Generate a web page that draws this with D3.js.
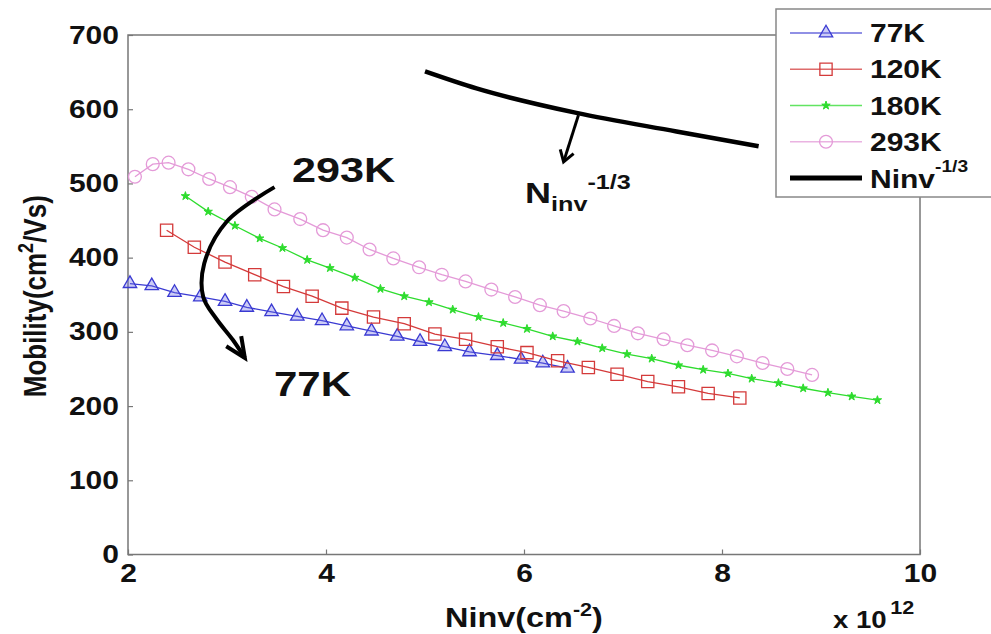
<!DOCTYPE html>
<html lang="en">
<head>
<meta charset="utf-8">
<title>Mobility vs Ninv</title>
<script src="https://d3js.org/d3.v7.min.js"></script>
<style>
  body, html { margin: 0; padding: 0; background: #fff; overflow: hidden; }
  text { font-family: "Liberation Sans", Arial, Helvetica, sans-serif; font-weight: bold; fill: #111; }
</style>
</head>
<body>
<svg id="chart" width="991" height="634"></svg>
<script>
// data (Ninv in 1e12 cm^-2, mobility in cm2/Vs)
var x77  = [2.02, 2.24, 2.47, 2.73, 2.98, 3.20, 3.45, 3.71, 3.96, 4.21, 4.46, 4.72, 4.95, 5.20, 5.45, 5.73, 5.97, 6.19, 6.44];
var mu77 = [365, 362, 353, 347, 341, 333, 327, 321, 315, 308, 301, 294, 287, 280, 273, 268, 263, 258, 251];

var x120  = [2.39, 2.67, 2.98, 3.28, 3.57, 3.86, 4.16, 4.48, 4.79, 5.10, 5.41, 5.73, 6.03, 6.34, 6.65, 6.94, 7.25, 7.56, 7.86, 8.18];
var mu120 = [437, 414, 394, 377, 361, 348, 332, 320, 311, 297, 290, 280, 272, 261, 252, 243, 233, 226, 217, 211];

var x180  = [2.58, 2.81, 3.08, 3.33, 3.56, 3.81, 4.04, 4.29, 4.55, 4.79, 5.04, 5.28, 5.54, 5.79, 6.03, 6.29, 6.54, 6.79, 7.04, 7.29, 7.56, 7.81, 8.06, 8.30, 8.57, 8.82, 9.07, 9.31, 9.57];
var mu180 = [483, 462, 443, 426, 413, 397, 386, 373, 358, 348, 340, 330, 320, 312, 304, 294, 287, 278, 270, 264, 255, 249, 244, 237, 231, 224, 218, 213, 208];

var x293  = [2.07, 2.25, 2.41, 2.61, 2.82, 3.03, 3.25, 3.48, 3.74, 3.97, 4.21, 4.44, 4.68, 4.94, 5.17, 5.41, 5.67, 5.91, 6.16, 6.40, 6.67, 6.91, 7.15, 7.41, 7.65, 7.90, 8.15, 8.41, 8.66, 8.91];
var mu293 = [509, 526, 528, 519, 506, 495, 482, 465, 452, 437, 427, 411, 399, 387, 377, 368, 357, 347, 336, 328, 318, 308, 298, 290, 282, 275, 267, 258, 250, 242];

// the Ninv^-1/3 guide line
var xGuide  = [5.00, 5.52, 6.53, 7.54, 8.37];
var muGuide = [651, 628, 595, 570, 550];

var xTicks = [2, 4, 6, 8, 10];
var yTicks = [0, 100, 200, 300, 400, 500, 600, 700];
var legendLabels = ["77K", "120K", "180K", "293K"];

// annotation paths, in data units
var bigArrowX  = [3.48, 3.00, 2.77, 2.76, 2.89, 3.06, 3.18];
var bigArrowMu = [495, 449, 392, 347, 318, 289, 265];
var smallArrowX  = [6.55, 6.40];
var smallArrowMu = [592, 529];

var svg = d3.select("#chart"),
    mL = 128, mR = 920, mT = 35, mB = 554.5,
    sx = 1.2; // the picture is stretched horizontally

var x = d3.scaleLinear().domain([2, 10]).range([mL, mR]);
var y = d3.scaleLinear().domain([0, 700]).range([mB, mT]);

var series = [
    {name: "77K",  xs: x77,  ys: mu77,  color: "#3a3ad2", fill: "rgba(110,110,230,0.35)", symbol: d3.symbolTriangle, size: 78, sw: 1.3},
    {name: "120K", xs: x120, ys: mu120, color: "#d43a3a", fill: "none", symbol: d3.symbolSquare, size: 150, sw: 1.3},
    {name: "180K", xs: x180, ys: mu180, color: "#2edc2e", fill: "#2edc2e", symbol: d3.symbolStar, size: 22, sw: 1},
    {name: "293K", xs: x293, ys: mu293, color: "#e49ad8", fill: "none", symbol: d3.symbolCircle, size: 130, sw: 1.3}
];

// frame
svg.append("rect")
    .attr("x", mL).attr("y", mT)
    .attr("width", mR - mL).attr("height", mB - mT)
    .attr("fill", "none").attr("stroke", "#777").attr("stroke-width", 1.5);

// axes, ticks inside
var xAxis = svg.append("g")
    .attr("transform", "translate(0," + mB + ")")
    .call(d3.axisBottom(x).tickValues(xTicks).tickSizeInner(-5).tickSizeOuter(0).tickPadding(10).tickFormat(d3.format("d")));
var yAxis = svg.append("g")
    .attr("transform", "translate(" + mL + ",0)")
    .call(d3.axisLeft(y).tickValues(yTicks).tickSizeInner(-5).tickSizeOuter(0).tickPadding(7.5).tickFormat(d3.format("d")));

[xAxis, yAxis].forEach(function (ax) {
    ax.select(".domain").remove();
    ax.selectAll(".tick line").attr("stroke", "#777").attr("stroke-width", 1.2);
    ax.selectAll(".tick text")
        .attr("font-size", 25)
        .attr("font-family", null)
        .attr("fill", "#111")
        .attr("transform", "scale(" + sx + ",1)");
});

// series lines and markers
var line = d3.line().x(function (d) { return x(d[0]); }).y(function (d) { return y(d[1]); });

series.forEach(function (s) {
    var pts = s.xs.map(function (v, i) { return [v, s.ys[i]]; });
    svg.append("path")
        .attr("d", line(pts))
        .attr("fill", "none")
        .attr("stroke", s.color)
        .attr("stroke-width", 1.3);
    svg.append("g").selectAll("path")
        .data(pts)
        .enter().append("path")
        .attr("transform", function (d) { return "translate(" + x(d[0]) + "," + y(d[1]) + ")"; })
        .attr("d", d3.symbol().type(s.symbol).size(s.size))
        .attr("fill", s.fill)
        .attr("stroke", s.color)
        .attr("stroke-width", s.sw);
});

// guide line
var guidePts = xGuide.map(function (v, i) { return [v, muGuide[i]]; });
svg.append("path")
    .attr("d", line.curve(d3.curveMonotoneX)(guidePts))
    .attr("fill", "none").attr("stroke", "#000").attr("stroke-width", 4.5);
line.curve(d3.curveLinear);

// arrows
function arrowHead(x1, y1, x2, y2, len, w) {
    var a = Math.atan2(y2 - y1, x2 - x1);
    var p1 = [x2 - len * Math.cos(a) + w * Math.sin(a), y2 - len * Math.sin(a) - w * Math.cos(a)];
    var p2 = [x2 - len * Math.cos(a) - w * Math.sin(a), y2 - len * Math.sin(a) + w * Math.cos(a)];
    return "M" + p1 + "L" + [x2, y2] + "L" + p2;
}

var bigPts = bigArrowX.map(function (v, i) { return [v, bigArrowMu[i]]; });
svg.append("path")
    .attr("d", line.curve(d3.curveCatmullRom)(bigPts))
    .attr("fill", "none").attr("stroke", "#000").attr("stroke-width", 4);
line.curve(d3.curveLinear);
var n = bigPts.length;
svg.append("path")
    .attr("d", arrowHead(x(bigPts[n - 2][0]), y(bigPts[n - 2][1]), x(bigPts[n - 1][0]), y(bigPts[n - 1][1]), 20, 9))
    .attr("fill", "none").attr("stroke", "#000").attr("stroke-width", 4);

svg.append("path")
    .attr("d", "M" + [x(smallArrowX[0]), y(smallArrowMu[0])] + "L" + [x(smallArrowX[1]), y(smallArrowMu[1])])
    .attr("stroke", "#000").attr("stroke-width", 3);
svg.append("path")
    .attr("d", arrowHead(x(smallArrowX[0]), y(smallArrowMu[0]), x(smallArrowX[1]), y(smallArrowMu[1]), 11, 7))
    .attr("fill", "none").attr("stroke", "#000").attr("stroke-width", 3);

// text helper, stretched horizontally like the source image
function label(px, py, size, anchor) {
    return svg.append("text")
        .attr("transform", "translate(" + px + "," + py + ") scale(" + sx + ",1)")
        .attr("font-size", size)
        .attr("text-anchor", anchor || "start");
}

label(292, 182, 36).text("293K");
label(274, 396, 35).text("77K");

var nl = label(525, 203, 30);
nl.append("tspan").text("N");
nl.append("tspan").attr("font-size", 21).attr("dy", 8).text("inv");
nl.append("tspan").attr("font-size", 21).attr("dy", -22).text("-1/3");

// axis titles
var xt = label(x(6), 627, 27, "middle");
xt.append("tspan").text("Ninv(cm");
xt.append("tspan").attr("font-size", 18).attr("dy", -11).text("-2");
xt.append("tspan").attr("dy", 11).text(")");

var yt = svg.append("text")
    .attr("transform", "translate(46," + y(348) + ") rotate(-90) scale(1," + sx + ")")
    .attr("font-size", 26)
    .attr("text-anchor", "middle");
yt.append("tspan").text("Mobility(cm");
yt.append("tspan").attr("font-size", 18).attr("dy", -11).text("2");
yt.append("tspan").attr("dy", 11).text("/Vs)");

var ex = label(833, 628, 23);
ex.append("tspan").text("x 10");
ex.append("tspan").attr("font-size", 18).attr("dx", 3).attr("dy", -14).text("12");

// legend
var lg = svg.append("g");
lg.append("rect")
    .attr("x", 776).attr("y", 9).attr("width", 240).attr("height", 188)
    .attr("fill", "#fff").attr("stroke", "#888").attr("stroke-width", 1.5);

var rowY = d3.scalePoint().domain(legendLabels.concat(["guide"])).range([33, 178]);

series.forEach(function (s) {
    var yy = rowY(s.name);
    lg.append("line")
        .attr("x1", 790).attr("x2", 862).attr("y1", yy).attr("y2", yy)
        .attr("stroke", s.color).attr("stroke-width", 1.3).attr("opacity", 0.75);
    lg.append("path")
        .attr("transform", "translate(826," + yy + ")")
        .attr("d", d3.symbol().type(s.symbol).size(s.size))
        .attr("fill", s.fill).attr("stroke", s.color).attr("stroke-width", s.sw);
    lg.append("text")
        .attr("transform", "translate(870," + (yy + 9) + ") scale(" + sx + ",1)")
        .attr("font-size", 25)
        .text(s.name);
});

var gy = rowY("guide");
lg.append("line")
    .attr("x1", 790).attr("x2", 862).attr("y1", gy).attr("y2", gy)
    .attr("stroke", "#000").attr("stroke-width", 5);
var gt = lg.append("text")
    .attr("transform", "translate(870," + (gy + 10) + ") scale(" + sx + ",1)")
    .attr("font-size", 25);
gt.append("tspan").text("Ninv");
gt.append("tspan").attr("font-size", 16).attr("dy", -16).text("-1/3");
</script>
</body>
</html>
